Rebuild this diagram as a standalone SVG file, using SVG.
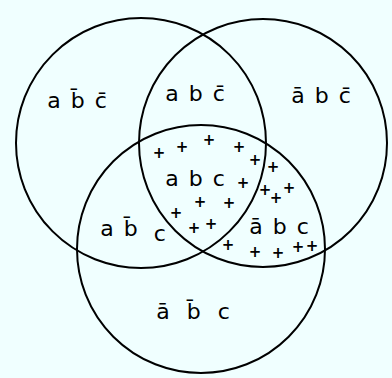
<svg xmlns="http://www.w3.org/2000/svg" width="392" height="378" viewBox="0 0 392 378">
  <style>
    .circ { fill: none; stroke: #000; stroke-width: 2; }
    .lbl { font-family: "DejaVu Sans", "Liberation Sans", sans-serif; font-size: 22px; fill: #000; text-anchor: middle; word-spacing: 3px; }
    .pl { font-family: "DejaVu Sans", "Liberation Sans", sans-serif; font-size: 15px; fill: #000; text-anchor: middle; font-weight: bold; }
  </style>
  <rect x="0" y="0" width="392" height="378" fill="#f0ffff"/>
  <g id="circles">
    <g id="circle-a"><circle class="circ" cx="141" cy="143" r="125"/></g>
    <g id="circle-b"><circle class="circ" cx="263" cy="143" r="124"/></g>
    <g id="circle-c"><circle class="circ" cx="201" cy="249" r="124"/></g>
  </g>
  <g id="labels">
    <g id="r-a-nb-nc"><text class="lbl" x="77" y="108">a b̄ c̄</text></g>
    <g id="r-a-b-nc"><text class="lbl" x="195" y="101">a b c̄</text></g>
    <g id="r-na-b-nc"><text class="lbl" x="321" y="103">ā b c̄</text></g>
    <g id="r-a-b-c"><text class="lbl" x="195" y="186">a b c</text></g>
    <g id="r-a-nb-c"><text class="lbl" x="133" y="236">a b̄ <tspan dx="6" dy="5">c</tspan></text></g>
    <g id="r-na-b-c"><text class="lbl" x="279" y="234">ā b c</text></g>
    <g id="r-na-nb-c"><text class="lbl" x="193" y="319" style="word-spacing:10px">ā b̄ c</text></g>
  </g>
  <g id="marks">
    <text class="pl" x="159" y="158">+</text>
    <text class="pl" x="182" y="152">+</text>
    <text class="pl" x="209" y="145">+</text>
    <text class="pl" x="239" y="152">+</text>
    <text class="pl" x="255" y="165">+</text>
    <text class="pl" x="273" y="172">+</text>
    <text class="pl" x="243" y="188">+</text>
    <text class="pl" x="200" y="207">+</text>
    <text class="pl" x="229" y="208">+</text>
    <text class="pl" x="176" y="218">+</text>
    <text class="pl" x="194" y="233">+</text>
    <text class="pl" x="211" y="229">+</text>
    <text class="pl" x="265" y="195">+</text>
    <text class="pl" x="276" y="203">+</text>
    <text class="pl" x="289" y="193">+</text>
    <text class="pl" x="228" y="250">+</text>
    <text class="pl" x="255" y="257">+</text>
    <text class="pl" x="278" y="258">+</text>
    <text class="pl" x="298" y="252">+</text>
    <text class="pl" x="312" y="251">+</text>
  </g>
</svg>
